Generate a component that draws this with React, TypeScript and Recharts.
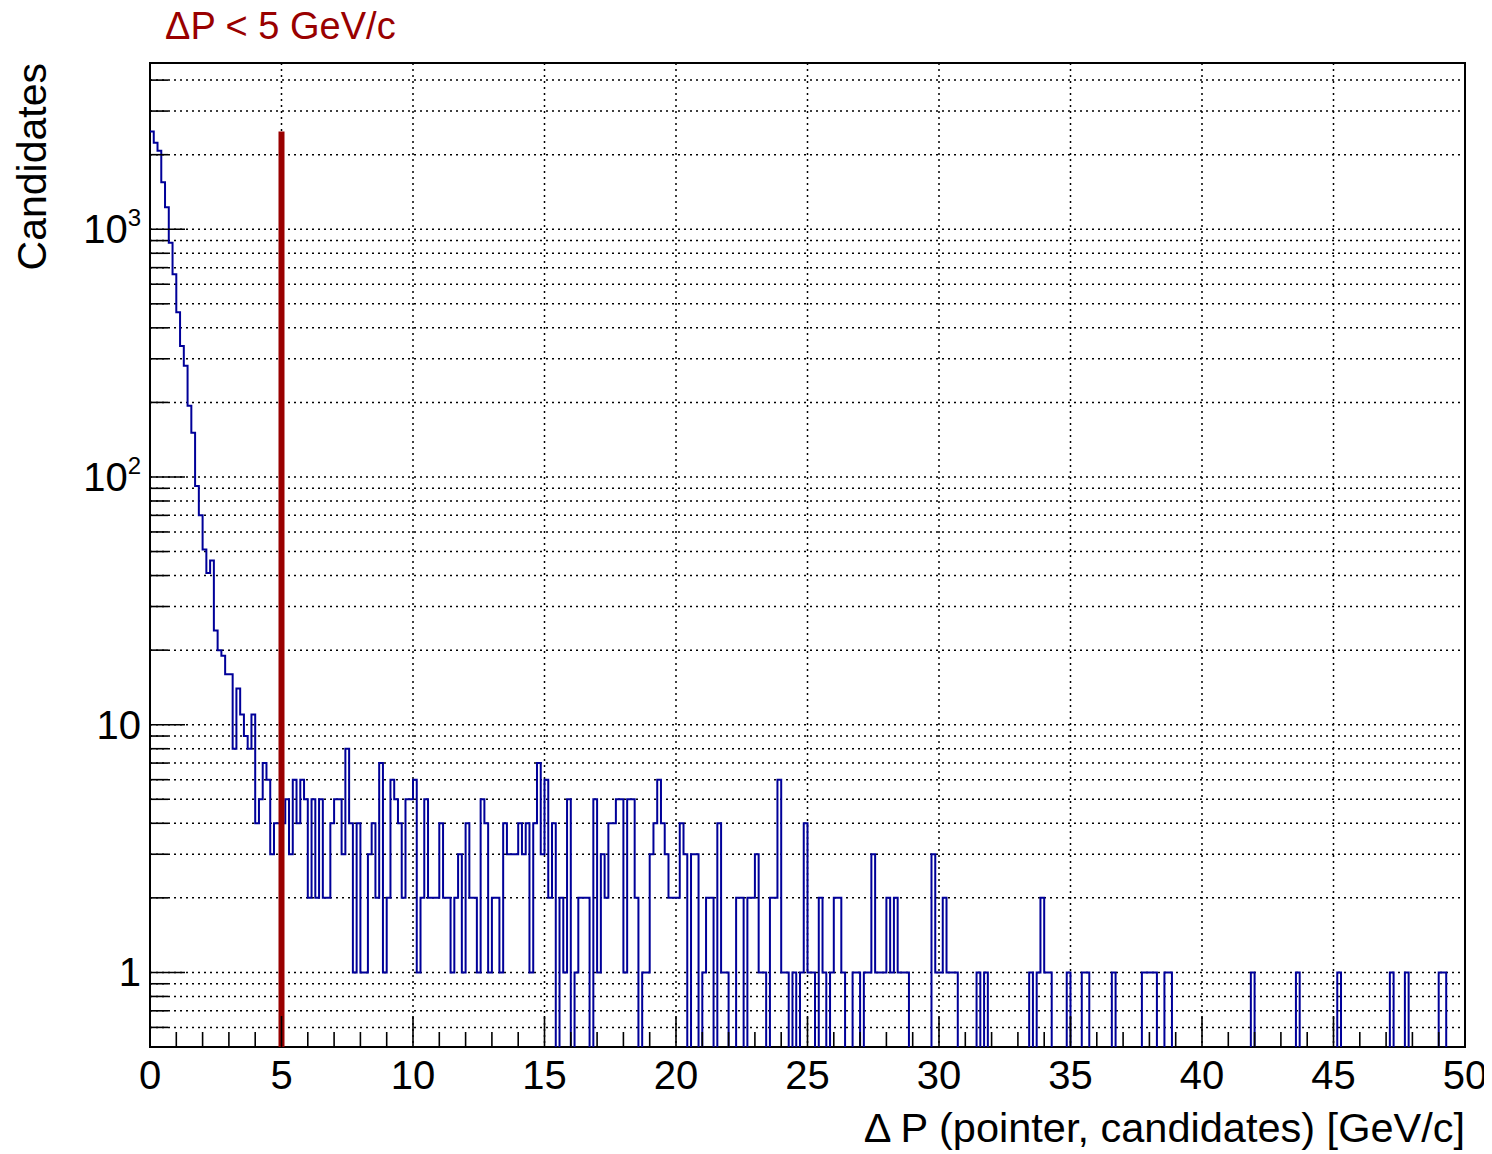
import React from 'react';
import { LineChart, Line, XAxis, YAxis, CartesianGrid, ReferenceLine, ReferenceArea } from 'recharts';

const CHART_W = 1484;
const CHART_H = 1146;

const xRange = [0, 50];
const nBins = 350;
const yRange = [0.5, 4690];

// counts per bin (bin width 1/7 GeV/c)
const candidates = [
  2480, 2236, 2075, 1547, 1226, 882, 659, 462, 338, 281,
  194, 151, 92, 70, 51, 41, 46, 24, 20, 19,
  16, 16, 8, 14, 11, 9, 8, 11, 4, 5,
  7, 6, 3, 4, 4, 4, 5, 3, 6, 4,
  6, 5, 2, 5, 2, 5, 2, 2, 4, 5,
  5, 3, 8, 4, 1, 4, 1, 1, 3, 4,
  2, 7, 1, 2, 6, 5, 4, 2, 5, 5,
  6, 1, 2, 5, 2, 2, 2, 4, 2, 2,
  1, 2, 3, 1, 4, 2, 2, 1, 5, 4,
  1, 2, 2, 1, 4, 3, 3, 3, 4, 3,
  4, 1, 4, 7, 3, 6, 2, 4, 0, 2,
  1, 5, 0, 1, 2, 2, 2, 0, 5, 1,
  3, 2, 4, 4, 5, 5, 1, 5, 5, 2,
  0, 1, 1, 3, 4, 6, 4, 3, 2, 2,
  2, 4, 3, 0, 3, 3, 0, 1, 2, 2,
  0, 4, 1, 1, 0, 0, 2, 2, 0, 2,
  2, 3, 1, 1, 0, 2, 2, 6, 1, 1,
  0, 1, 0, 1, 4, 1, 1, 0, 2, 1,
  0, 1, 2, 2, 1, 0, 0, 1, 1, 0,
  1, 1, 3, 1, 1, 1, 2, 1, 2, 1,
  1, 1, 0, 0, 0, 0, 0, 0, 3, 1,
  1, 2, 1, 1, 1, 0, 0, 0, 0, 0,
  1, 0, 1, 0, 0, 0, 0, 0, 0, 0,
  0, 0, 0, 0, 1, 0, 1, 2, 1, 1,
  0, 0, 0, 0, 1, 0, 0, 0, 1, 1,
  0, 0, 0, 0, 0, 0, 1, 0, 0, 0,
  0, 0, 0, 0, 1, 1, 1, 1, 0, 0,
  1, 1, 0, 0, 0, 0, 0, 0, 0, 0,
  0, 0, 0, 0, 0, 0, 0, 0, 0, 0,
  0, 0, 0, 1, 0, 0, 0, 0, 0, 0,
  0, 0, 0, 0, 0, 1, 0, 0, 0, 0,
  0, 0, 0, 0, 0, 0, 1, 0, 0, 0,
  0, 0, 0, 0, 0, 0, 0, 0, 0, 0,
  1, 0, 0, 0, 1, 0, 0, 0, 0, 0,
  0, 0, 0, 1, 1, 0, 0, 0, 0, 0,
];

const xMajorTicks = [0, 5, 10, 15, 20, 25, 30, 35, 40, 45, 50];
const xGridValues = [5, 10, 15, 20, 25, 30, 35, 40, 45];
const xAllTicks = [
  0, 1, 2, 3, 4, 5, 6, 7, 8, 9, 10, 11, 12, 13, 14, 15, 16, 17, 18, 19, 20,
  21, 22, 23, 24, 25, 26, 27, 28, 29, 30, 31, 32, 33, 34, 35, 36, 37, 38, 39, 40,
  41, 42, 43, 44, 45, 46, 47, 48, 49, 50,
];
const yMajorTicks = [1, 10, 100, 1000];
const yAllTicks = [
  0.6, 0.7, 0.8, 0.9, 1, 2, 3, 4, 5, 6, 7, 8, 9,
  10, 20, 30, 40, 50, 60, 70, 80, 90,
  100, 200, 300, 400, 500, 600, 700, 800, 900,
  1000, 2000, 3000, 4000,
];
const yTickBase = ['1', '10', '10', '10'];
const yTickExp = ['', '', '2', '3'];

const titleText = 'ΔP < 5 GeV/c';
const xTitle = 'Δ P (pointer, candidates) [GeV/c]';
const yTitle = 'Candidates';
const cutValue = 5;
const cutTop = 2480;

const HIST_COLOR = '#000099';
const CUT_COLOR = '#990000';
const FONT = '"Liberation Sans", Arial, Helvetica, sans-serif';

const binWidth = (xRange[1] - xRange[0]) / nBins;
const rows = candidates.map((c, k) => ({ x: xRange[0] + k * binWidth, y: c > 0 ? c : 0.05 }));
rows.push({ x: xRange[1], y: rows[rows.length - 1].y });

const XTick = (props: any) => {
  const { x, y, payload } = props;
  const v = payload.value;
  const major = xMajorTicks.indexOf(v) >= 0;
  const len = major ? 31 : 15;
  return (
    <g>
      <line x1={x} x2={x} y1={y} y2={y - len} stroke="#000" strokeWidth={1.6} />
      {major && (
        <text x={x} y={y + 42} textAnchor="middle" fontFamily={FONT} fontSize={40} fill="#000">
          {String(v)}
        </text>
      )}
    </g>
  );
};

const YTick = (props: any) => {
  const { x, y, payload } = props;
  const v = payload.value;
  const idx = yMajorTicks.indexOf(v);
  const major = idx >= 0;
  const len = major ? 35 : 18;
  return (
    <g>
      <line x1={x} x2={x + len} y1={y} y2={y} stroke="#000" strokeWidth={1.6} />
      {major && (
        <text x={x - 9} y={y + 14} textAnchor="end" fontFamily={FONT} fontSize={40} fill="#000">
          {yTickBase[idx]}
          {yTickExp[idx] ? (
            <tspan fontSize={24} dy={-17}>{yTickExp[idx]}</tspan>
          ) : null}
        </text>
      )}
    </g>
  );
};

export default function App() {
  return (
    <div style={{ position: 'relative', width: CHART_W, height: CHART_H, background: '#fff' }}>
      <LineChart
        width={CHART_W}
        height={CHART_H}
        data={rows}
        margin={{ top: 55, right: 27, bottom: 0, left: 0 }}
      >
        <CartesianGrid
          stroke="#000"
          strokeWidth={1.5}
          strokeDasharray="2 4"
          horizontalValues={yAllTicks}
          verticalValues={xGridValues}
        />
        <XAxis
          dataKey="x"
          type="number"
          domain={xRange}
          ticks={xAllTicks}
          interval={0}
          tick={<XTick />}
          tickLine={false}
          axisLine={false}
          tickSize={0}
          tickMargin={0}
          height={107}
          allowDataOverflow
        />
        <YAxis
          type="number"
          scale="log"
          domain={yRange}
          ticks={yAllTicks}
          interval={0}
          tick={<YTick />}
          tickLine={false}
          axisLine={false}
          tickSize={0}
          tickMargin={0}
          width={142}
          allowDataOverflow
        />
        <Line
          type="stepAfter"
          dataKey="y"
          stroke={HIST_COLOR}
          strokeWidth={2}
          dot={false}
          isAnimationActive={false}
        />
        <ReferenceLine
          segment={[{ x: cutValue, y: yRange[0] }, { x: cutValue, y: cutTop }]}
          stroke={CUT_COLOR}
          strokeWidth={6}
        />
        <ReferenceArea
          x1={xRange[0]}
          x2={xRange[1]}
          y1={yRange[0]}
          y2={yRange[1]}
          fill="none"
          fillOpacity={0}
          stroke="#000"
          strokeWidth={2}
        />
      </LineChart>
      <svg
        width={CHART_W + 8}
        height={CHART_H + 8}
        style={{ position: 'absolute', left: -8, top: -8, pointerEvents: 'none' }}
      >
        <text x={165} y={39} fontFamily={FONT} fontSize={38} fill={CUT_COLOR}>
          {titleText}
        </text>
        <text
          x={1465}
          y={1142}
          textAnchor="end"
          fontFamily={FONT}
          fontSize={41.5}
          fill="#000"
        >
          {xTitle}
        </text>
        <text
          transform="translate(46,63) rotate(-90)"
          textAnchor="end"
          fontFamily={FONT}
          fontSize={41}
          fill="#000"
        >
          {yTitle}
        </text>
      </svg>
    </div>
  );
}
